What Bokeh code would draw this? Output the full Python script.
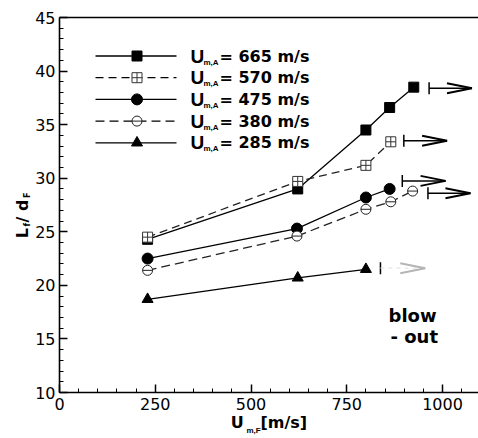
import numpy as np
from bokeh.plotting import figure
from bokeh.models import Label, LinearAxis, FixedTicker, Range1d
from bokeh.embed import file_html
from bokeh.resources import INLINE

# ---------------- data ----------------
uf_665 = [230, 622, 800, 862, 925]
lf_665 = [24.3, 29.0, 34.5, 36.6, 38.5]
uf_570 = [230, 622, 800, 865]
lf_570 = [24.5, 29.7, 31.2, 33.4]
uf_475 = [230, 620, 800, 862]
lf_475 = [22.5, 25.3, 28.2, 29.0]
uf_380 = [230, 620, 800, 865, 922]
lf_380 = [21.4, 24.6, 27.1, 27.8, 28.8]
uf_285 = [230, 622, 800]
lf_285 = [18.7, 20.7, 21.5]

series_names = ["665", "570", "475", "380", "285"]

# blow-out arrows (start x, end x, level)
arrow_x0 = [965, 899, 895, 962, 838]
arrow_x1 = [1077, 1012, 1008, 1073, 955]
arrow_y = [38.4, 33.5, 29.75, 28.6, 21.6]

x_ticks = [0, 250, 500, 750, 1000]
x_minor = list(range(0, 1101, 50))
y_ticks = [10, 15, 20, 25, 30, 35, 40, 45]
y_minor = list(range(10, 46, 1))

NB = "\u00a0"
x_title = "U" + NB * 3 + "[m/s]"
x_title_sub = "m,F"
y_title = "L" + NB + "/ d" + NB * 5
y_title_sub = "f" + NB * 9 + "F"

# ---------------- layout ----------------
W, H = 478, 438
BL, BT, BB, BR = 59, 17, 46, 0
FRAME_W = W - BL - BR
FRAME_H = H - BT - BB
PX_PER_X = 0.383          # px per x unit
XMAX = FRAME_W / PX_PER_X
YMIN, YMAX = 10, 45
PX_PER_Y = FRAME_H / (YMAX - YMIN)
OX, OY = BL, BT           # canvas position of frame's top-left


def dx(px):
    return (px - OX) / PX_PER_X


def dy(py):
    return YMAX - (py - OY) / PX_PER_Y


p = figure(width=W, height=H, x_range=Range1d(0, XMAX), y_range=Range1d(YMIN, YMAX),
           output_backend="svg", toolbar_location=None,
           min_border_left=BL, min_border_right=BR, min_border_top=BT, min_border_bottom=BB)
p.outline_line_color = None
p.grid.visible = False
p.background_fill_color = "white"
p.border_fill_color = "white"

TICK_FONT = "DejaVu Sans"
for ax, ticks, minor in ((p.xaxis[0], x_ticks, x_minor), (p.yaxis[0], y_ticks, y_minor)):
    ax.ticker = FixedTicker(ticks=ticks, minor_ticks=minor)
    ax.major_tick_in = 8
    ax.major_tick_out = 0
    ax.minor_tick_in = 4
    ax.minor_tick_out = 0
    ax.axis_line_width = 1.6
    ax.major_tick_line_width = 1.5
    ax.minor_tick_line_width = 1
    ax.axis_line_color = "black"
    ax.major_tick_line_color = "black"
    ax.minor_tick_line_color = "black"
    ax.major_label_text_font = TICK_FONT
    ax.major_label_text_font_size = "16px"
    ax.major_label_text_color = "black"
    ax.major_label_standoff = 5
    ax.axis_label_text_font = "DejaVu Sans"
    ax.axis_label_text_font_style = "bold"
    ax.axis_label_text_font_size = "16px"
    ax.axis_label_text_color = "black"
    ax.axis_label_standoff = 0

p.yaxis[0].major_label_standoff = 4
p.xaxis[0].axis_label = x_title
p.yaxis[0].axis_label = y_title

top = LinearAxis(ticker=FixedTicker(ticks=[]), major_label_text_font_size="0px",
                 major_label_standoff=0, major_tick_out=0, minor_tick_out=0,
                 axis_line_width=1.6, axis_line_color="black")
p.add_layout(top, "above")

# ---------------- series ----------------
LW = 1.3
p.line(uf_665, lf_665, line_color="black", line_width=LW)
p.scatter(uf_665, lf_665, marker="square", size=10, fill_color="black", line_color="black")

p.line(uf_570, lf_570, line_color="#222222", line_width=LW, line_dash="8 5")
p.scatter(uf_570, lf_570, marker="square_cross", size=10, fill_color="white", line_color="#333333")

p.line(uf_475, lf_475, line_color="black", line_width=LW)
p.scatter(uf_475, lf_475, marker="circle", size=11, fill_color="black", line_color="black")

p.line(uf_380, lf_380, line_color="#222222", line_width=LW, line_dash="9 5")
p.scatter(uf_380, lf_380, marker="circle", size=10, fill_color="white", line_color="#222222")
p.scatter(uf_380, lf_380, marker="dash", size=10, line_color="#222222")

p.line(uf_285, lf_285, line_color="black", line_width=LW)
p.scatter(uf_285, lf_285, marker="triangle", size=11, fill_color="black", line_color="black")

# ---------------- blow-out arrows ----------------
ax0 = np.array(arrow_x0, dtype=float)
ax1 = np.array(arrow_x1, dtype=float)
ay = np.array(arrow_y, dtype=float)
head_len = 25 / PX_PER_X
head_half = 5 / PX_PER_Y
tee_half = 6 / PX_PER_Y
strong = slice(0, 4)
faint = slice(4, 5)
p.segment(ax0, ay - tee_half, ax0, ay + tee_half, line_color="black", line_width=1.5)
p.segment(ax0[strong], ay[strong], ax1[strong], ay[strong], line_color="black", line_width=1.5)
p.segment(ax0[faint], ay[faint], ax1[faint], ay[faint], line_color="#e6e6e6", line_width=1.2, line_dash="4 4")
for sl, col in ((strong, "black"), (faint, "#b5b5b5")):
    p.segment(ax1[sl], ay[sl], ax1[sl] - head_len, ay[sl] + head_half, line_color=col, line_width=2)
    p.segment(ax1[sl], ay[sl], ax1[sl] - head_len, ay[sl] - head_half, line_color=col, line_width=2)

# ---------------- legend (drawn by hand) ----------------
rows_px = [55.5, 77.2, 98.9, 120.6, 142.3]
styles = [
    dict(dash="solid", marker="square", size=10, fill="black", col="black"),
    dict(dash="8 5", marker="square_cross", size=10, fill="white", col="#333333"),
    dict(dash="solid", marker="circle", size=11, fill="black", col="black"),
    dict(dash="9 5", marker="circle", size=10, fill="white", col="#222222"),
    dict(dash="solid", marker="triangle", size=11, fill="black", col="black"),
]


def lab(x, y, text, size, font="DejaVu Sans", angle=0.0, baseline="middle"):
    return Label(x=x, y=y, text=text, angle=angle,
                 text_font=font, text_font_style="bold", text_font_size=size,
                 text_color="black", text_baseline=baseline, text_align="left")


for name, rpx, st in zip(series_names, rows_px, styles):
    yy = dy(rpx)
    p.line([dx(95), dx(176)], [yy, yy], line_color="black", line_width=LW, line_dash=st["dash"])
    p.scatter([dx(136.5)], [yy], marker=st["marker"], size=st["size"],
              fill_color=st["fill"], line_color=st["col"])
    if name == "380":
        p.scatter([dx(136.5)], [yy], marker="dash", size=10, line_color=st["col"])
    p.add_layout(lab(dx(190), yy, "U", "19px", font="Liberation Sans"))
    p.add_layout(lab(dx(203), dy(rpx + 6), "m,A", "8px", font="Liberation Sans"))
    p.add_layout(lab(dx(219), yy, "= %s m/s" % name, "16px"))

# ---------------- title subscripts (side panels, so they are not clipped) ----------------
p.add_layout(lab(dx(27), dy(226), y_title_sub, "8px", angle=np.pi / 2), "left")
p.add_layout(lab(dx(246), dy(430), x_title_sub, "8px", font="Liberation Sans"), "above")

# ---------------- annotation ----------------
p.add_layout(lab(dx(388), dy(315), "blow", "18px", baseline="alphabetic"))
p.add_layout(lab(dx(390), dy(336), "- out", "18px", baseline="alphabetic"))

open("out.html", "w").write(file_html(p, INLINE))
